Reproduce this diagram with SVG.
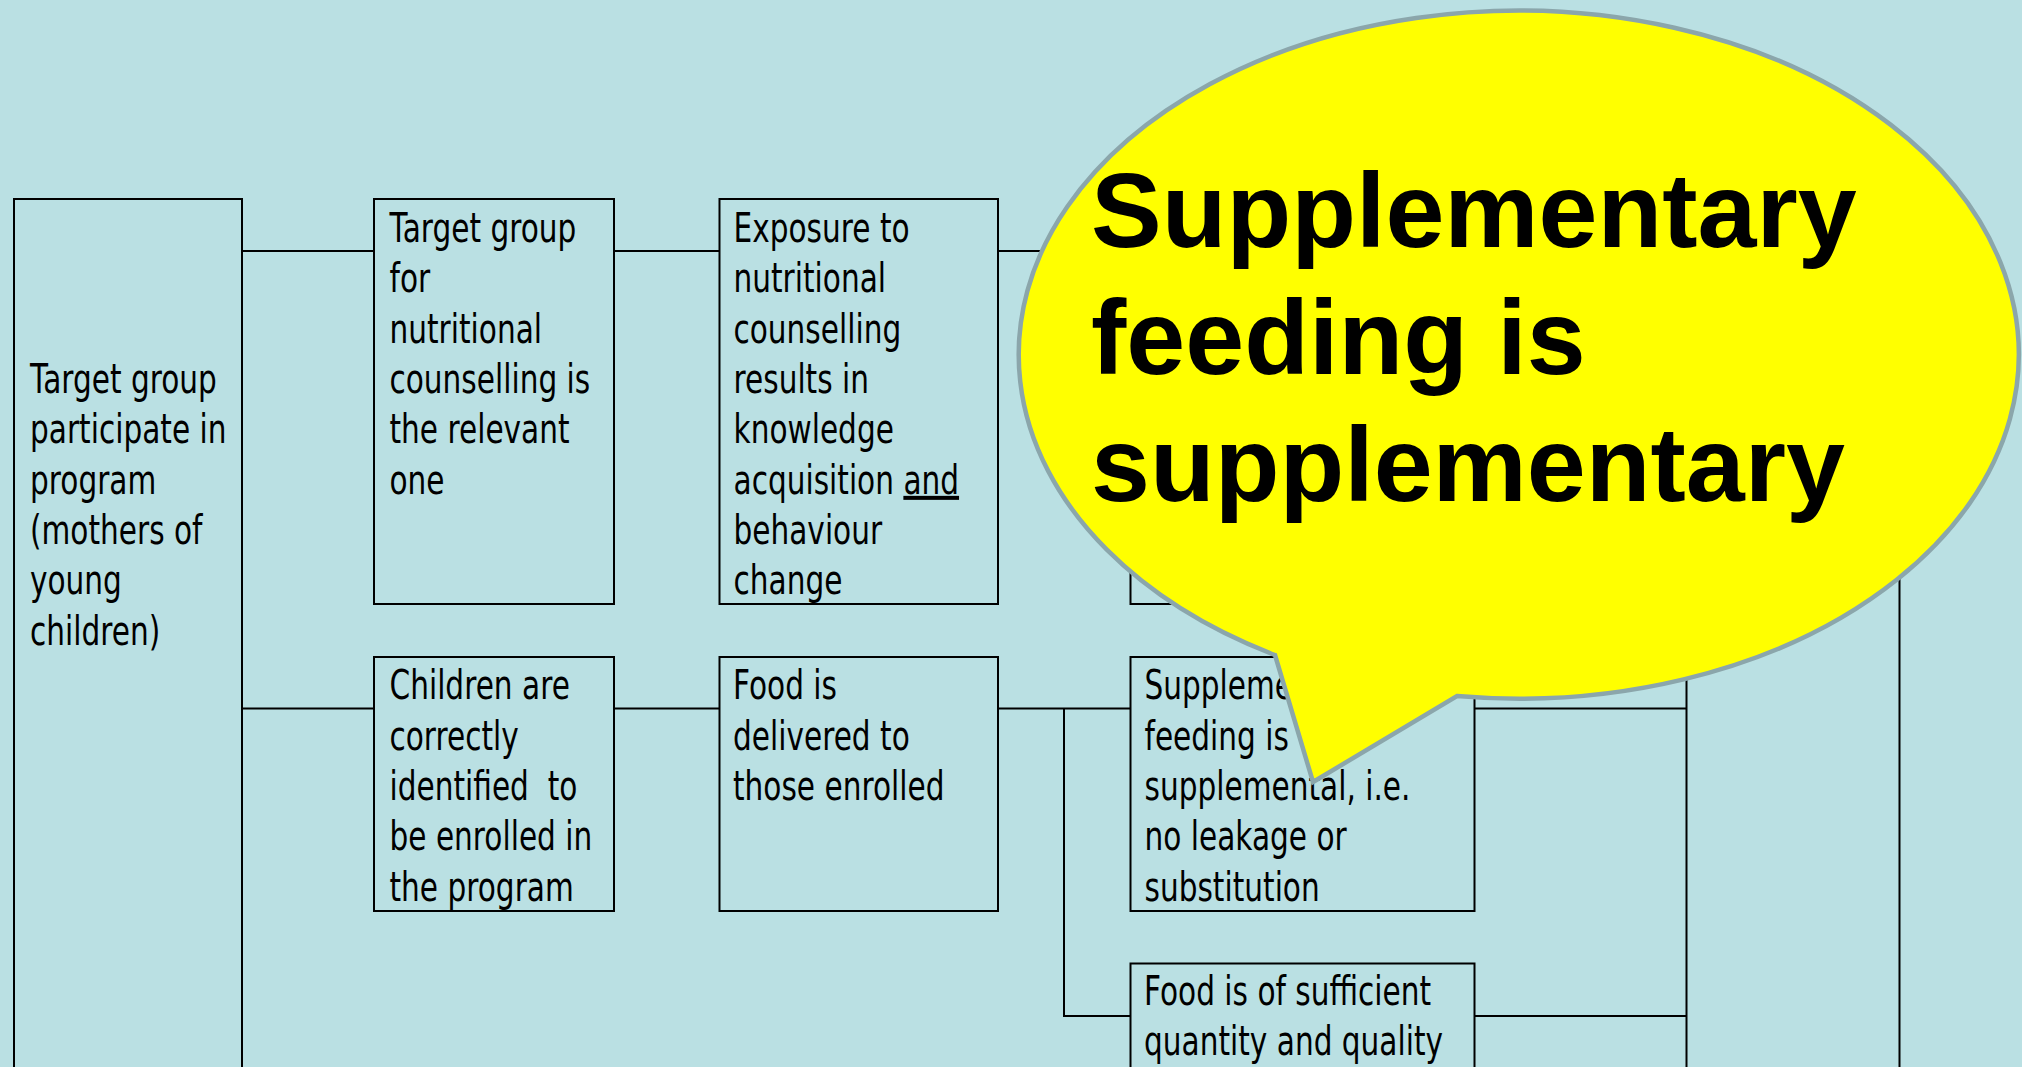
<svg xmlns="http://www.w3.org/2000/svg" width="2022" height="1067" viewBox="0 0 2022 1067">
<style>
.box{fill:none;stroke:#000;stroke-width:2}
.ln{fill:none;stroke:#000;stroke-width:2}
.t{font-family:"DejaVu Sans",Verdana,sans-serif;font-size:40px;fill:#000;white-space:pre}
.bt{font-family:"Liberation Sans",Arial,sans-serif;font-weight:bold;font-size:106px;fill:#000}
</style>
<rect x="0" y="0" width="2022" height="1067" fill="#BAE0E3"/>

<g id="connectors">
<path class="ln" d="M242 251 H374 M614 251 H719.5 M998 251 H1130.5"/>
<path class="ln" d="M242 708.5 H374 M614 708.5 H719.5 M998 708.5 H1130.5 M1064 708.5 V1016 H1130.5"/>
<path class="ln" d="M1474.5 708.5 H1686.5 M1474.5 1016 H1686.5 M1686.5 604 V1067 M1899.5 300 V1067"/>
</g>

<g id="node-participate">
<rect class="box" x="14" y="199" width="228" height="920"/>
<g transform="translate(30 0) scale(0.74 1)">
<text class="t"><tspan x="0" y="393">Target group</tspan><tspan x="0" y="443.3">participate in</tspan><tspan x="0" y="493.6">program</tspan><tspan x="0" y="544">(mothers of</tspan><tspan x="0" y="594.3">young</tspan><tspan x="0" y="644.6">children)</tspan></text>
</g>
</g>

<g id="node-target-counselling">
<rect class="box" x="374" y="199" width="240" height="405"/>
<g transform="translate(389.5 0) scale(0.74 1)">
<text class="t"><tspan x="0" y="242">Target group</tspan><tspan x="0" y="292.3">for</tspan><tspan x="0" y="342.6">nutritional</tspan><tspan x="0" y="393">counselling is</tspan><tspan x="0" y="443.3">the relevant</tspan><tspan x="0" y="493.6">one</tspan></text>
</g>
</g>

<g id="node-exposure">
<rect class="box" x="719.5" y="199" width="278.5" height="405"/>
<g transform="translate(733.5 0) scale(0.74 1)">
<text class="t"><tspan x="0" y="242">Exposure to</tspan><tspan x="0" y="292.3">nutritional</tspan><tspan x="0" y="342.6">counselling</tspan><tspan x="0" y="393">results in</tspan><tspan x="0" y="443.3">knowledge</tspan><tspan x="0" y="493.6">acquisition <tspan text-decoration="underline">and</tspan></tspan><tspan x="0" y="544">behaviour</tspan><tspan x="0" y="594.3">change</tspan></text>
</g>
</g>

<g id="node-row1-col4">
<rect class="box" x="1130.5" y="199" width="344" height="405"/>
</g>

<g id="node-children">
<rect class="box" x="374" y="657" width="240" height="254"/>
<g transform="translate(389.5 0) scale(0.74 1)">
<text class="t"><tspan x="0" y="699.3">Children are</tspan><tspan x="0" y="749.6">correctly</tspan><tspan x="0" y="800">identified  to</tspan><tspan x="0" y="850.3">be enrolled in</tspan><tspan x="0" y="900.6">the program</tspan></text>
</g>
</g>

<g id="node-food-delivered">
<rect class="box" x="719.5" y="657" width="278.5" height="254"/>
<g transform="translate(733 0) scale(0.74 1)">
<text class="t"><tspan x="0" y="699.3">Food is</tspan><tspan x="0" y="749.6">delivered to</tspan><tspan x="0" y="800">those enrolled</tspan></text>
</g>
</g>

<g id="node-supplemental">
<rect class="box" x="1130.5" y="657" width="344" height="254"/>
<g transform="translate(1144.5 0) scale(0.74 1)">
<text class="t"><tspan x="0" y="699.3">Supplementary</tspan><tspan x="0" y="749.6">feeding is</tspan><tspan x="0" y="800">supplemental, i.e.</tspan><tspan x="0" y="850.3">no leakage or</tspan><tspan x="0" y="900.6">substitution</tspan></text>
</g>
</g>

<g id="node-quantity">
<rect class="box" x="1130.5" y="963.5" width="344" height="200"/>
<g transform="translate(1144 0) scale(0.74 1)">
<text class="t"><tspan x="0" y="1005">Food is of sufficient</tspan><tspan x="0" y="1055.3">quantity and quality</tspan></text>
</g>
</g>

<g id="callout">
<path d="M1275 655 L1313 782 L1457 696 A500 344 0 1 0 1275 655 Z" fill="#FFFF00" stroke="#8BA6AB" stroke-width="4.5" stroke-linejoin="miter"/>
<text class="bt"><tspan x="1091" y="247">Supplementary</tspan><tspan x="1091" y="374">feeding is</tspan><tspan x="1091" y="501">supplementary</tspan></text>
</g>
</svg>
